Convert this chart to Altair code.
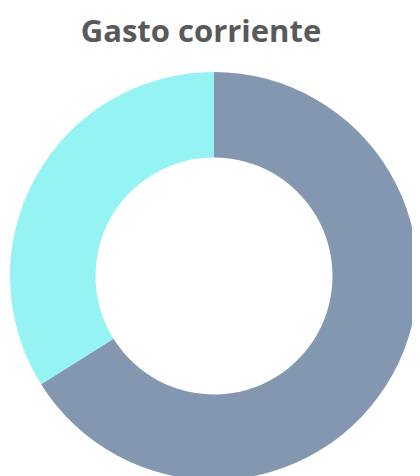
import altair as alt
import pandas as pd

categories = ["A", "B"]
values = [66.1, 33.9]
order = [1, 2]
colors = ["#8497B0", "#95F3F3"]

df = pd.DataFrame({"cat": categories, "val": values, "ord": order})

chart = alt.Chart(df).mark_arc(radius=204, innerRadius=118.5, stroke=None).encode(
    theta=alt.Theta("val:Q", stack=True),
    order=alt.Order("ord:Q"),
    color=alt.Color("cat:N", scale=alt.Scale(domain=categories, range=colors), legend=None),
    x=alt.value(206),
    y=alt.value(212),
).properties(
    width=404,
    height=412,
    autosize=alt.AutoSizeParams(type="none"),
    padding={"left": 0, "top": 56, "right": 0, "bottom": 0},
    title=alt.Title(
        "Gasto corriente",
        font="Open Sans",
        fontSize=31,
        fontWeight="bold",
        color="#595959",
        anchor="middle",
        dx=-9,
        offset=15,
    ),
).configure_view(stroke=None)

chart.save("out.html", embed_options={"renderer": "svg", "actions": False})
